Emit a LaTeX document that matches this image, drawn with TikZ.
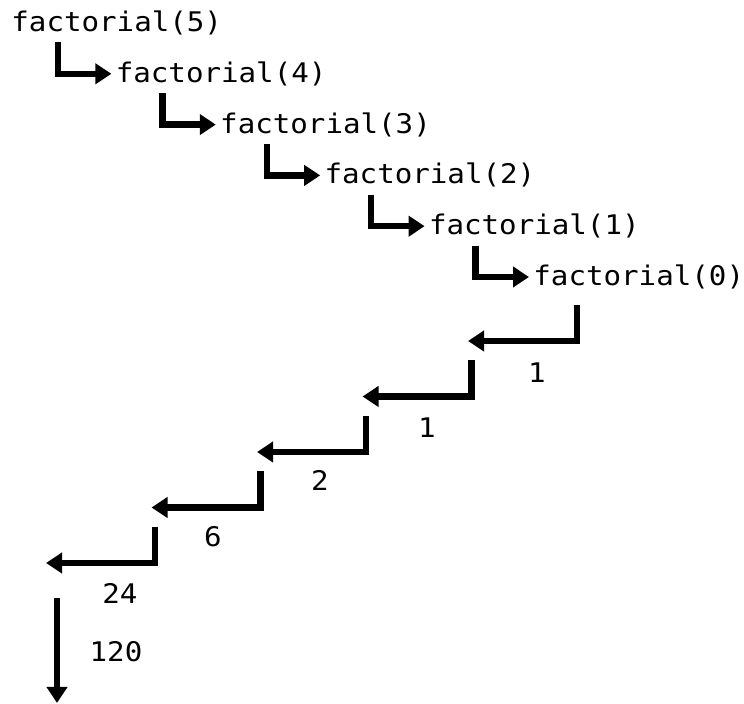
\documentclass[tikz,border=0pt]{standalone}
\usepackage{fontspec}
\newfontfamily\codefont[FakeStretch=1.08]{DejaVu Sans Mono}
\usetikzlibrary{
  arrows.meta,
  positioning,
  calc,
}
\tikzset{
  callname/.style={
    anchor=west, inner sep=0pt, text=black,
    font=\codefont\fontsize{13.5}{15}\selectfont,
  },
  retval/.style={
    inner sep=0pt, text=black,
    font=\codefont\fontsize{13.5}{15}\selectfont,
  },
  arrowCall/.style={
    -{Triangle[length=8pt,width=10pt]}, line width=3.2pt, draw=black,
  },
  arrowRet/.style={
    -{Triangle[length=8pt,width=10pt]}, line width=3.2pt, draw=black,
  },
}

\begin{document}
\begin{tikzpicture}[x=0.5pt, y=-0.5pt]

\useasboundingbox (0,0) rectangle (744,704);

% the chain of calls, one row per level
\foreach \n in {5,4,...,0}
{
  \pgfmathsetmacro{\xl}{11 + (5-\n)*104.4}
  \pgfmathsetmacro{\yc}{23 + (5-\n)*50.8}
  \node[callname] (f\n) at (\xl, \yc) {factorial(\n)};
}

% call arrows: down from one call, right into the next
\foreach \n in {5,4,...,1}
{
  \pgfmathtruncatemacro{\m}{\n-1}
  \draw[arrowCall] ($(f\n.south west)+(47,7)$) |- ([xshift=-2pt]f\m.west);
}

% return steps back up the stair
\foreach \i in {1,...,5}
{
  \pgfmathsetmacro{\tx}{577 - (\i-1)*105.5}
  \pgfmathsetmacro{\ty}{305 + (\i-1)*55.5}
  \coordinate (top\i) at (\tx, \ty);
  \coordinate (tip\i) at (\tx-109, \ty+36);
  \draw[arrowRet] (top\i) |- (tip\i);
}
\coordinate (top6) at (57, 598);
\coordinate (tip6) at (57, 703);
\draw[arrowRet] (top6) -- (tip6);

% returned values
\foreach \i/\val/\lx/\ly in {1/1/537/373, 2/1/427/428, 3/2/320/480,
                             4/6/213/537, 5/24/120/593, 6/120/116/652}
{
  \node[retval] (v\i) at (\lx, \ly) {\val};
}

\end{tikzpicture}
\end{document}
